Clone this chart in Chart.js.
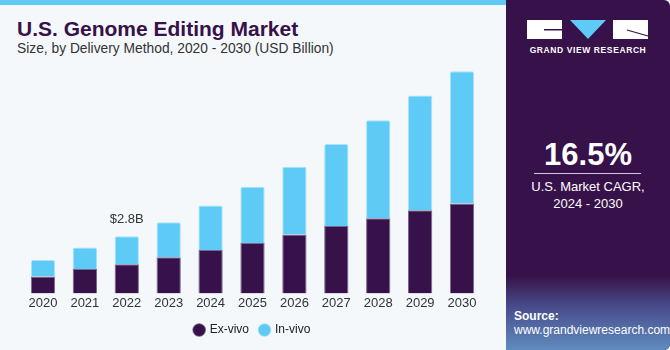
<!DOCTYPE html>
<html>
<head>
<meta charset="utf-8">
<script src="https://cdn.jsdelivr.net/npm/chart.js@4"></script>
<style>
  html, body { margin: 0; padding: 0; }
  body { width: 670px; height: 350px; position: relative; overflow: hidden; background: #f4f8fb; font-family: "Liberation Sans", Arial, sans-serif; }
  #topbar { position: absolute; left: 0; top: 0; width: 506px; height: 5px; background: #5ecbf7; }
  #titulo { position: absolute; left: 17px; top: 17px; font-size: 21px; font-weight: bold; color: #371149; }
  #subtitulo { position: absolute; left: 17px; top: 41px; font-size: 13.8px; color: #333; }
  #grafico { position: absolute; left: 0; top: 0; }
  #panel { position: absolute; left: 506px; top: 0; width: 164px; height: 350px; background: #371149; border-radius: 0 6px 6px 0; overflow: hidden; }
  #panel .fondo { position: absolute; left: 0; bottom: 0; width: 100%; height: 75px; background: linear-gradient(180deg, #371149 0%, #4a4f8e 45%, #5f8cc0 100%); }
  #logo { position: absolute; left: 21px; top: 20px; }
  #gvr { position: absolute; left: 0; width: 164px; top: 45px; text-align: center; color: #fff; font-size: 8.5px; font-weight: bold; letter-spacing: 0.6px; }
  #cagr { position: absolute; left: 0; width: 164px; top: 137px; text-align: center; color: #fff; font-size: 31px; font-weight: bold; }
  #linea { position: absolute; left: 28px; width: 107px; top: 173px; height: 1px; background: #cfc5d8; }
  #cagrtxt { position: absolute; left: 0; width: 164px; top: 178px; text-align: center; color: #fff; font-size: 13px; line-height: 17px; }
  #fuente { position: absolute; left: 8px; top: 309px; color: #fff; font-size: 12px; line-height: 14px; }
</style>
</head>
<body>
<div id="topbar"></div>
<div id="titulo">U.S. Genome Editing Market</div>
<div id="subtitulo">Size, by Delivery Method, 2020 - 2030 (USD Billion)</div>
<canvas id="grafico" width="506" height="350"></canvas>
<div id="panel">
  <div class="fondo"></div>
  <svg id="logo" width="122" height="20" viewBox="0 0 122 20">
    <rect x="0" y="0" width="35" height="19" fill="#fff"/>
    <rect x="17" y="9" width="18" height="1.5" fill="#371149"/>
    <polygon points="43,0 79,0 61,19" fill="#5ecbf7"/>
    <rect x="86" y="0" width="35" height="19" fill="#fff"/>
    <line x1="100" y1="10" x2="121" y2="16" stroke="#371149" stroke-width="1.2"/>
  </svg>
  <div id="gvr">GRAND VIEW RESEARCH</div>
  <div id="cagr">16.5%</div>
  <div id="linea"></div>
  <div id="cagrtxt">U.S. Market CAGR,<br>2024 - 2030</div>
  <div id="fuente"><b>Source:</b><br>www.grandviewresearch.com</div>
</div>
<script>
// datos (USD Billion)
const anios = ["2020", "2021", "2022", "2023", "2024", "2025", "2026", "2027", "2028", "2029", "2030"];
const exVivo = [0.83, 1.19, 1.42, 1.77, 2.12, 2.46, 2.88, 3.29, 3.68, 4.07, 4.40];
const inVivo = [0.80, 1.06, 1.38, 1.71, 2.18, 2.75, 3.31, 4.01, 4.79, 5.61, 6.46];
const etiquetaIndice = 2;
const etiquetaTexto = "$2.8B";

// etiqueta sobre la barra de 2022
const etiquetaPlugin = {
    id: "etiqueta",
    afterDatasetsDraw(chart) {
        const ctx = chart.ctx;
        const x = chart.scales.x.getPixelForValue(etiquetaIndice);
        const total = exVivo[etiquetaIndice] + inVivo[etiquetaIndice];
        const y = chart.scales.y.getPixelForValue(total);
        ctx.save();
        ctx.font = "13px 'Liberation Sans', Arial, sans-serif";
        ctx.fillStyle = "#333";
        ctx.textAlign = "center";
        ctx.textBaseline = "bottom";
        ctx.fillText(etiquetaTexto, x, y - 10);
        ctx.restore();
    }
};

new Chart(document.getElementById("grafico"), {
    type: "bar",
    data: {
        labels: anios,
        datasets: [
            {
                label: "Ex-vivo",
                data: exVivo,
                backgroundColor: "#371149",
                borderColor: "#7a6890",
                borderWidth: { top: 1, left: 1, right: 1, bottom: 0 }
            },
            {
                label: "In-vivo",
                data: inVivo,
                backgroundColor: "#5ecbf7",
                borderColor: "#a9e2f9",
                borderWidth: { top: 1, left: 1, right: 1, bottom: 0 },
                borderRadius: { topLeft: 2, topRight: 2 },
                borderSkipped: "bottom"
            }
        ]
    },
    options: {
        responsive: false,
        animation: false,
        layout: { padding: { left: 22, right: 23, top: 48, bottom: 4 } },
        plugins: {
            legend: {
                display: true,
                position: "bottom",
                labels: {
                    usePointStyle: true,
                    pointStyle: "circle",
                    boxWidth: 9,
                    boxHeight: 9,
                    padding: 11,
                    color: "#222",
                    font: { size: 12, family: "'Liberation Sans', Arial, sans-serif" }
                }
            },
            tooltip: { enabled: false }
        },
        scales: {
            x: {
                stacked: true,
                grid: { display: false, drawTicks: false },
                border: { display: false },
                ticks: {
                    color: "#333",
                    padding: 2,
                    font: { size: 13, family: "'Liberation Sans', Arial, sans-serif" }
                }
            },
            y: {
                stacked: true,
                display: false,
                min: 0,
                max: 12
            }
        },
        datasets: { bar: { categoryPercentage: 1, barPercentage: 0.58 } }
    },
    plugins: [etiquetaPlugin]
});
</script>
</body>
</html>
